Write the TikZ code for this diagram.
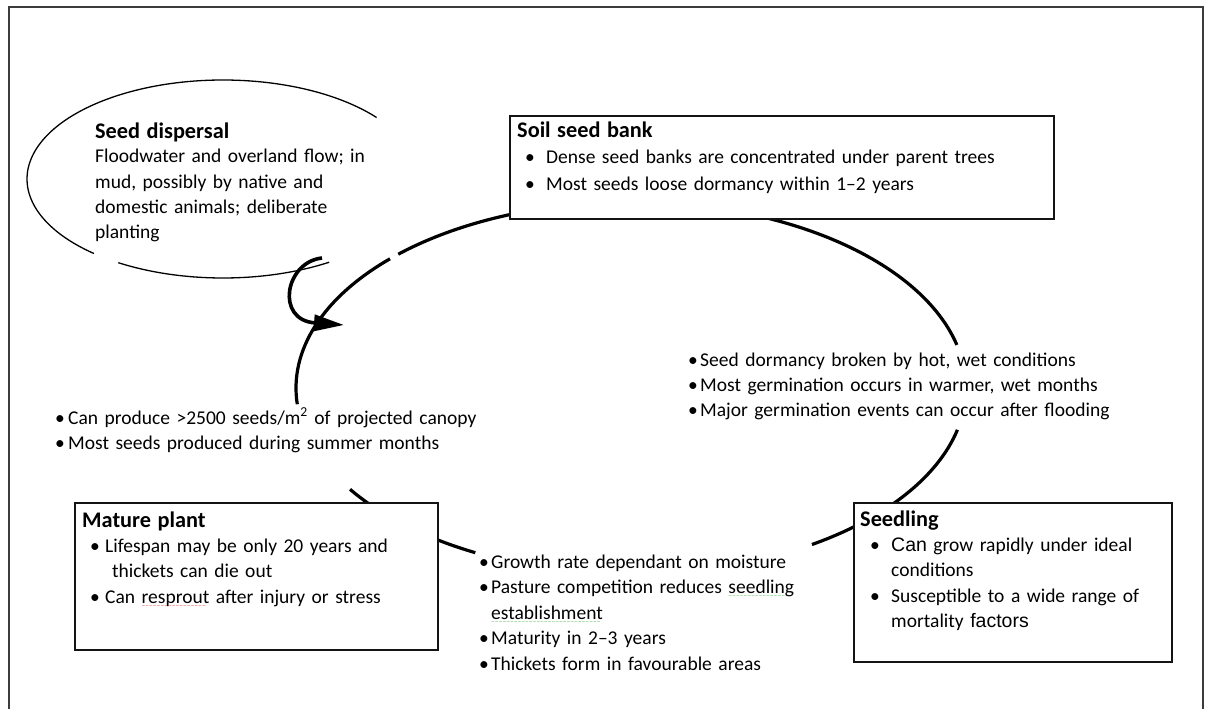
\documentclass[tikz,border=0pt]{standalone}
\usepackage{fontspec}
\setmainfont{Carlito}
\newfontfamily\arialfont{Liberation Sans}
\newfontfamily\wavefont{DejaVu Sans}
\usetikzlibrary{arrows.meta, positioning}
\definecolor{inkline}{RGB}{20, 20, 20}
\definecolor{framegray}{RGB}{60, 60, 60}
\definecolor{spellred}{RGB}{230, 40, 40}
\definecolor{spellgreen}{RGB}{60, 170, 60}
\newcommand\bodyfont{\fontsize{19.5}{25.3}\selectfont}
\newcommand\soilfont{\fontsize{19.5}{26.5}\selectfont}
\newcommand\stagefont{\fontsize{22.3}{27}\selectfont\bfseries}
\newcommand\bul[1]{\makebox[#1][l]{\textbullet}}
\newsavebox\wavebox
\newcommand\wavy[2]{\sbox\wavebox{#2}\rlap{\raisebox{-4pt}{\textcolor{#1}{\hbox to \wd\wavebox{\leaders\hbox{\wavefont\fontsize{4.5}{4.5}\selectfont ∼}\hfill}}}}\usebox\wavebox}
\tikzset{
  frame/.style={draw=framegray, line width=2pt},
  ringline/.style={draw=black, line width=3.2pt},
  displine/.style={draw=black, line width=1.3pt},
  curl/.style={draw=black, line width=3.6pt, -{Triangle[length=30pt, width=16pt]}},
  stagebox/.style={rectangle, draw=inkline, line width=1.6pt, fill=white, inner sep=0pt, anchor=north west},
  notes/.style={anchor=base west, inner sep=0pt, text width=520pt, align=left, font=\bodyfont},
}
\begin{document}
\begin{tikzpicture}[x=1pt, y=-1pt]
    \useasboundingbox (0,0) rectangle (1208,709);
    % outer frame, open at the bottom
    \draw[frame] (9,709) -- (9,7) -- (1203,7) -- (1203,709);

    % life cycle ring (broken by the text blocks)
    \coordinate (ring) at (631,388);
    \draw[ringline] (ring) ++(-100:335 and 186) arc[start angle=-100, end angle=-134, x radius=335, y radius=186];
    \draw[ringline] (ring) ++(-136:335 and 186) arc[start angle=-136, end angle=-185, x radius=335, y radius=186];
    \draw[ringline] (ring) ++(-213:335 and 186) arc[start angle=-213, end angle=-242.3, x radius=335, y radius=186];
    \draw[ringline] (ring) ++(-302.7:335 and 186) arc[start angle=-302.7, end angle=-347, x radius=335, y radius=186];
    \draw[ringline] (ring) ++(-13.4:335 and 186) arc[start angle=-13.4, end angle=-80, x radius=335, y radius=186];

    % seed dispersal ellipse
    \coordinate (disp) at (223,179);
    \draw[displine] (disp) ++(-38.4:196 and 99) arc[start angle=-38.4, end angle=-228.8, x radius=196, y radius=99];
    \draw[displine] (disp) ++(-237.7:196 and 99) arc[start angle=-237.7, end angle=-302.8, x radius=196, y radius=99];
    \node[notes] (disptxt) at (95,138) {{\stagefont Seed dispersal}\\[-0.5pt]
        Floodwater and overland flow; in\\
        mud, possibly by native and\\
        domestic animals; deliberate\\
        planting};

    % curled arrow into the ring
    \coordinate (curlfrom) at (322,258);
    \coordinate (curlto) at (344,325);
    \draw[curl] (curlfrom) .. controls (285,262) and (275,320) .. (curlto);

    % stage boxes
    \node[stagebox, minimum width=544pt, minimum height=103pt] (soil) at (509,115) {};
    \node[stagebox, minimum width=363pt, minimum height=147pt] (mature) at (74,502) {};
    \node[stagebox, minimum width=318pt, minimum height=159pt] (seedling) at (853,502) {};

    \node[notes, font=\soilfont] (soiltxt) at (517,137) {{\stagefont Soil seed bank}\\
        \hspace*{8pt}\bul{21pt}Dense seed banks are concentrated under parent trees\\
        \hspace*{8pt}\bul{21pt}Most seeds loose dormancy within 1--2 years};

    \node[notes] (maturetxt) at (82,527) {{\stagefont Mature plant}\\
        \hspace*{8pt}\bul{15pt}Lifespan may be only 20 years and\\
        \hspace*{30pt}thickets can die out\\[0.5pt]
        \hspace*{8pt}\bul{15pt}Can \wavy{spellred}{resprout} after injury or stress};

    \node[notes] (seedtxt) at (860,526) {{\stagefont Seedling}\\
        \hspace*{10pt}\bul{21pt}{\arialfont Can} grow rapidly under ideal\\
        \hspace*{31pt}conditions\\[0.5pt]
        \hspace*{10pt}\bul{21pt}Susceptible to a wide range of\\
        \hspace*{31pt}mortality {\arialfont factors}};

    % notes along the ring
    \node[notes] (germnotes) at (688,366) {\bul{12pt}Seed dormancy broken by hot, wet conditions\\
        \bul{12pt}Most germination occurs in warmer, wet months\\
        \bul{12pt}Major germination events can occur after flooding};

    \node[notes] (seednotes) at (55,424) {\bul{13pt}Can produce >2500 seeds/m\textsuperscript{2} of projected canopy\\[0.5pt]
        \bul{13pt}Most seeds produced during summer months};

    \node[notes] (growthnotes) at (479,568) {\bul{12pt}Growth rate dependant on moisture\\[0.5pt]
        \bul{12pt}Pasture competition reduces \wavy{spellgreen}{seedling}\\
        \hspace*{12pt}\wavy{spellgreen}{establishment}\\[0.5pt]
        \bul{12pt}Maturity in 2--3 years\\[0.5pt]
        \bul{12pt}Thickets form in favourable areas};
\end{tikzpicture}
\end{document}
